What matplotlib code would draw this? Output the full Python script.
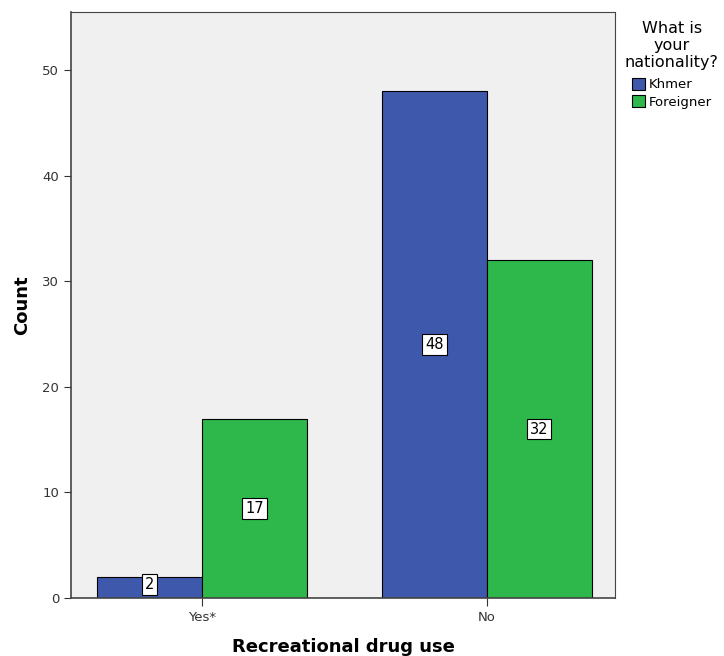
import numpy as np
import matplotlib
matplotlib.use("Agg")
import matplotlib.pyplot as plt
from matplotlib.patches import Patch

categories = ["Yes*", "No"]
groups = ["Khmer", "Foreigner"]
khmer = [2, 48]
foreigner = [17, 32]
colors = ["#3e58ac", "#2eb84b"]

fig = plt.figure(figsize=(7.24, 6.56), dpi=100)
ax = fig.add_axes([71 / 724, 58 / 656, 544 / 724, 586 / 656])
ax.set_facecolor("#f0f0f0")

x = np.arange(len(categories))
w = 0.368
for i, (vals, col) in enumerate(zip([khmer, foreigner], colors)):
    pos = x + (i - 0.5) * w
    ax.bar(pos, vals, width=w, color=col, edgecolor="black", linewidth=0.8, zorder=2)
    for p, v in zip(pos, vals):
        ypos = max(v / 2, 1.3)
        ax.text(p, ypos, str(v), ha="center", va="center", fontsize=10.5,
                bbox=dict(boxstyle="square,pad=0.2", fc="white", ec="black", lw=0.8), zorder=3)

ax.set_xlim(-0.46, 1.45)
ax.set_ylim(0, 55.5)
ax.set_xticks(x)
ax.set_xticklabels(categories)
ax.set_yticks([0, 10, 20, 30, 40, 50])
ax.tick_params(labelsize=9.5, colors="#333333", length=5)
ax.tick_params(axis="x", length=6)
ax.set_ylabel("Count", fontsize=13, fontweight="bold", labelpad=8)
ax.set_xlabel("Recreational drug use", fontsize=13, fontweight="bold", labelpad=10)
for s in ax.spines.values():
    s.set_color("#444444")
ax.spines["left"].set_linewidth(1.2)
ax.spines["bottom"].set_linewidth(1.2)

handles = [Patch(facecolor=c, edgecolor="black", linewidth=0.8) for c in colors]
leg = fig.legend(handles, groups, title="What is\nyour\nnationality?", loc="upper left",
                 bbox_to_anchor=(625 / 724, 1 - 21 / 656), frameon=False, fontsize=9.5,
                 title_fontsize=11.5, handlelength=1.0, handleheight=1.0,
                 handletextpad=0.3, labelspacing=0.3, borderaxespad=0, borderpad=0)
leg.get_title().set_multialignment("center")
leg.get_title().set_linespacing(1.15)
leg._legend_box.sep = 6

fig.savefig("out.png", dpi=100)
